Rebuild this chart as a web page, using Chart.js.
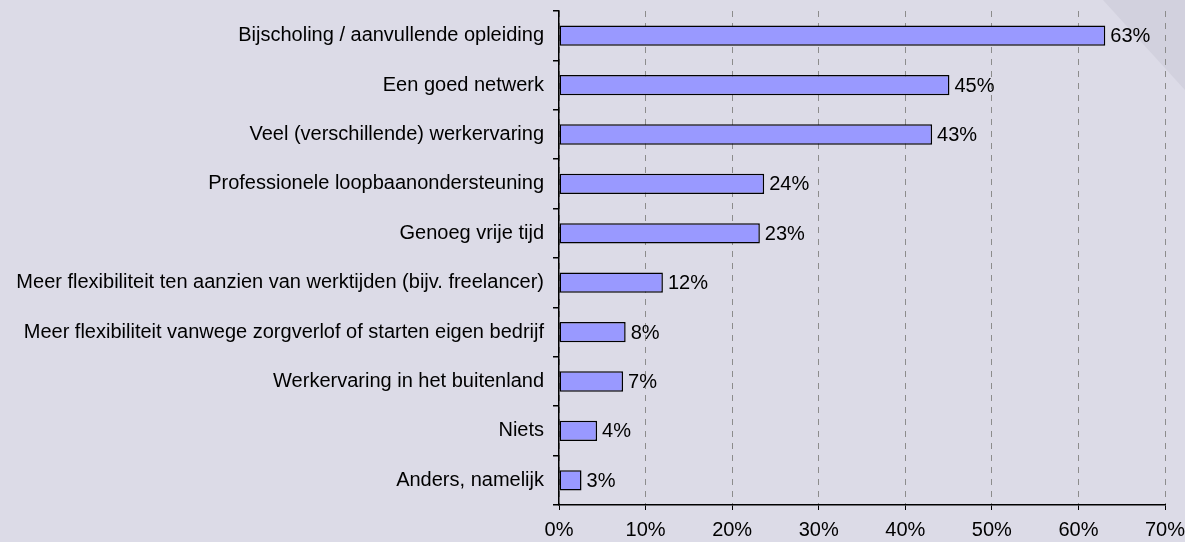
<!DOCTYPE html>
<html>
<head>
<meta charset="utf-8">
<script src="https://cdn.jsdelivr.net/npm/chart.js@4.4.0/dist/chart.umd.min.js"></script>
<style>
  html, body { margin: 0; padding: 0; background: #DCDBE7; }
  #wrap { width: 1185px; height: 542px; position: relative; }
</style>
</head>
<body>
<div id="wrap"><canvas id="chart"></canvas></div>
<script>
// --- DATA ---
const categories = [
    'Bijscholing / aanvullende opleiding',
    'Een goed netwerk',
    'Veel (verschillende) werkervaring',
    'Professionele loopbaanondersteuning',
    'Genoeg vrije tijd',
    'Meer flexibiliteit ten aanzien van werktijden (bijv. freelancer)',
    'Meer flexibiliteit vanwege zorgverlof of starten eigen bedrijf',
    'Werkervaring in het buitenland',
    'Niets',
    'Anders, namelijk'
];
const values = [63.1, 45.1, 43.1, 23.7, 23.2, 12.0, 7.7, 7.4, 4.4, 2.6];
const valueLabels = ['63%', '45%', '43%', '24%', '23%', '12%', '8%', '7%', '4%', '3%'];
const xTicks = [0, 10, 20, 30, 40, 50, 60, 70];

// --- STYLE ---
const BG = '#DCDBE7';
const BG_FOLD = '#D2D1DE';
const BAR = '#9999FF';
const FONT = '"Liberation Sans", Arial, sans-serif';
const FONT_SIZE = 20;

// Fond + coin replié en haut à droite
const backgroundPlugin = {
    id: 'bg',
    beforeDraw(chart) {
        const { ctx, width } = chart;
        ctx.save();
        ctx.fillStyle = BG;
        ctx.fillRect(0, 0, width, chart.height);
        ctx.fillStyle = BG_FOLD;
        ctx.beginPath();
        ctx.moveTo(width - 82, 0);
        ctx.lineTo(width, 0);
        ctx.lineTo(width, 90);
        ctx.closePath();
        ctx.fill();
        ctx.restore();
    }
};

// Étiquettes de valeur au bout des barres
const valueLabelPlugin = {
    id: 'valueLabels',
    afterDatasetsDraw(chart) {
        const { ctx } = chart;
        const meta = chart.getDatasetMeta(0);
        ctx.save();
        ctx.fillStyle = '#000';
        ctx.font = FONT_SIZE + 'px ' + FONT;
        ctx.textAlign = 'left';
        ctx.textBaseline = 'middle';
        meta.data.forEach((bar, i) => {
            ctx.fillText(valueLabels[i], bar.x + 5, bar.y + 1);
        });
        ctx.restore();
    }
};

new Chart(document.getElementById('chart'), {
    type: 'bar',
    data: {
        labels: categories,
        datasets: [{
            data: values,
            backgroundColor: BAR,
            borderColor: '#000',
            borderWidth: 1.5,
            borderSkipped: false,
            categoryPercentage: 1,
            barPercentage: 0.41
        }]
    },
    options: {
        indexAxis: 'y',
        responsive: true,
        maintainAspectRatio: false,
        animation: false,
        layout: { padding: { top: 11, right: 20, left: 0, bottom: 0 } },
        plugins: { legend: { display: false }, tooltip: { enabled: false } },
        scales: {
            x: {
                type: 'linear',
                min: 0, max: 70,
                afterBuildTicks: s => { s.ticks = xTicks.map(v => ({ value: v })); },
                afterFit: s => { s.height = 37; s.paddingLeft = 0; s.paddingRight = 0; },
                ticks: {
                    color: '#000',
                    font: { family: FONT, size: FONT_SIZE },
                    padding: 8,
                    maxRotation: 0,
                    callback: v => v + '%'
                },
                grid: {
                    color: '#8C8C8C',
                    tickColor: '#000',
                    tickLength: 5,
                    lineWidth: 1
                },
                border: { display: true, color: '#000', width: 1.5, dash: [6, 6] }
            },
            y: {
                afterFit: s => { s.width = 559; s.paddingTop = 0; s.paddingBottom = 0; },
                ticks: {
                    color: '#000',
                    font: { family: FONT, size: FONT_SIZE },
                    padding: 9,
                    autoSkip: false
                },
                grid: {
                    offset: true,
                    drawOnChartArea: false,
                    color: '#000',
                    tickLength: 6,
                    lineWidth: 1.5
                },
                border: { display: true, color: '#000', width: 1.5 }
            }
        }
    },
    plugins: [backgroundPlugin, valueLabelPlugin]
});
</script>
</body>
</html>
